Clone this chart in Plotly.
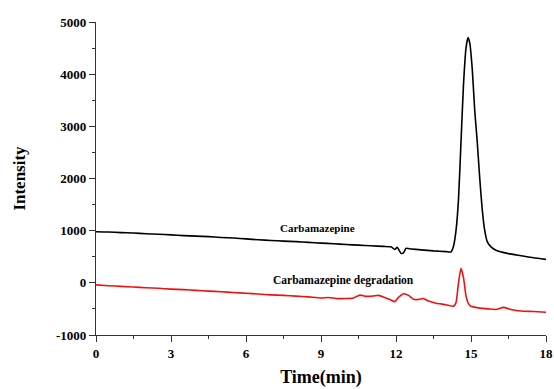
import plotly.graph_objects as go

# Carbamazepine (black) chromatogram
t_cbz = [0, 0.5, 1, 1.5, 2, 2.5, 3, 3.5, 4, 4.5, 5, 5.5, 6, 6.5, 7, 7.5, 8, 8.5, 9, 9.5,
         10, 10.5, 11, 11.5, 11.8, 11.95, 12.05, 12.2, 12.3, 12.4, 12.6, 13, 13.5, 14, 14.2,
         14.3, 14.4, 14.5, 14.6, 14.7, 14.8, 14.88, 14.95, 15.05, 15.15, 15.25, 15.35, 15.45,
         15.55, 15.65, 15.8, 16, 16.5, 17, 17.5, 18]
y_cbz = [980, 975, 962, 955, 940, 930, 920, 905, 895, 885, 870, 860, 842, 825, 812, 800,
         790, 775, 762, 750, 735, 722, 710, 698, 690, 640, 680, 565, 575, 660, 650, 632, 612,
         598, 592, 700, 1000, 1600, 2700, 3800, 4500, 4700, 4600, 4100, 3300, 2700, 2000,
         1400, 1000, 790, 690, 625, 560, 520, 480, 450]

# Carbamazepine degradation (red) chromatogram
t_deg = [0, 0.5, 1, 1.5, 2, 2.5, 3, 3.5, 4, 4.5, 5, 5.5, 6, 6.5, 7, 7.5, 8, 8.5, 9, 9.3,
         9.6, 10, 10.3, 10.55, 10.8, 11.1, 11.3, 11.5, 11.8, 11.95, 12.1, 12.3, 12.5, 12.7,
         12.9, 13.1, 13.3, 13.6, 14.0, 14.3, 14.4, 14.5, 14.6, 14.7, 14.8, 14.9, 15.0, 15.3,
         15.7, 16.0, 16.3, 16.6, 17, 17.5, 18]
y_deg = [-40, -55, -68, -80, -95, -105, -120, -130, -145, -158, -170, -185, -200, -215,
         -230, -240, -255, -270, -290, -280, -300, -300, -290, -235, -260, -250, -240, -270,
         -330, -360, -280, -210, -240, -315, -320, -300, -350, -390, -420, -450, -380, 0,
         280, 100, -250, -400, -450, -480, -500, -510, -470, -510, -540, -550, -565]

x_ticks = [0, 3, 6, 9, 12, 15, 18]
y_ticks = [-1000, 0, 1000, 2000, 3000, 4000, 5000]

font_family = "Liberation Serif"

fig = go.Figure()
fig.add_trace(go.Scatter(x=t_cbz, y=y_cbz, mode="lines",
                         line=dict(color="black", width=1.6, shape="spline", smoothing=0.5),
                         showlegend=False))
fig.add_trace(go.Scatter(x=t_deg, y=y_deg, mode="lines",
                         line=dict(color="#ee1111", width=1.6, shape="spline", smoothing=0.5),
                         showlegend=False))

fig.add_annotation(x=8.84, y=1054, text="<b>Carbamazepine</b>", showarrow=False,
                   font=dict(family=font_family, size=11, color="black"))
fig.add_annotation(x=9.88, y=40, text="<b>Carbamazepine degradation</b>", showarrow=False,
                   font=dict(family=font_family, size=11.5, color="black"))

axis_common = dict(showgrid=False, zeroline=False, showline=True, linecolor="#333333",
                   linewidth=1.2, ticks="outside", ticklen=6, tickwidth=1.2, tickcolor="#333333",
                   tickfont=dict(family=font_family, size=13, color="black"), mirror=False,
                   automargin=False)

fig.update_xaxes(range=[0, 18], tickvals=x_ticks, ticktext=[f"<b>{v}</b>" for v in x_ticks],
                 minor=dict(dtick=1.5, tick0=0, ticklen=3, ticks="outside", tickcolor="#333333"),
                 title=dict(text="<b>Time(min)</b>", font=dict(family=font_family, size=18, color="black"),
                            standoff=10),
                 **axis_common)
fig.update_yaxes(range=[-1000, 5000], tickvals=y_ticks, ticktext=[f"<b>{v}</b>" for v in y_ticks],
                 minor=dict(dtick=500, tick0=0, ticklen=3, ticks="outside", tickcolor="#333333"),
                 title=dict(text="<b>Intensity</b>", font=dict(family=font_family, size=17, color="black"),
                            standoff=26),
                 **axis_common)

fig.update_layout(width=554, height=389, margin=dict(l=96, r=8, t=22, b=54),
                  plot_bgcolor="white", paper_bgcolor="white")

fig.write_html("out.html")
